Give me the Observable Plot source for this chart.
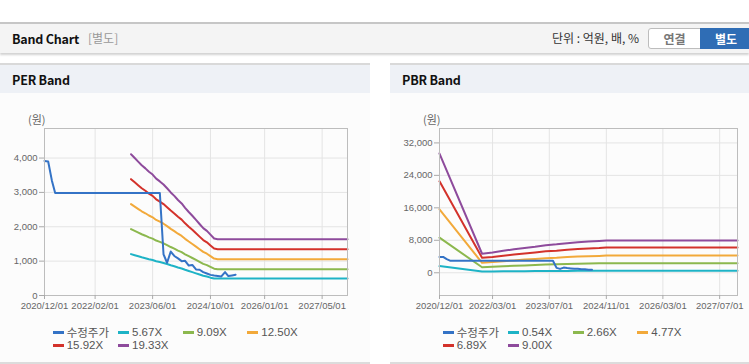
<!DOCTYPE html>
<html><head><meta charset="utf-8">
<script src="https://cdn.jsdelivr.net/npm/d3@7"></script>
<script src="https://cdn.jsdelivr.net/npm/@observablehq/plot@0.6"></script>
<style>
body{margin:0;background:#fff;font-family:"Noto Sans CJK KR","Noto Sans",sans-serif;}
#root{position:relative;width:749px;height:364px;overflow:hidden;background:#fff;}
.hdr{position:absolute;left:0;top:22px;width:749px;height:29px;background:#f4f4f4;border-top:2px solid #c6c6c6;box-shadow:0 2px 2px rgba(0,0,0,0.18);}
.hdr .t{position:absolute;left:12px;top:5px;font-size:12.5px;font-weight:bold;color:#111;letter-spacing:-0.2px;}
.hdr .s{position:absolute;left:88px;top:5px;font-size:12px;color:#999;}
.hdr .u{position:absolute;left:552px;top:5px;font-size:12px;color:#333;}
.b1{position:absolute;left:648px;top:4px;width:51px;height:19px;border:1px solid #bdbdbd;border-radius:3px 0 0 3px;background:#fff;color:#777;font-size:12px;font-weight:bold;text-align:center;line-height:19px;box-sizing:content-box;}
.b2{position:absolute;left:700px;top:4px;width:52px;height:21px;background:#2f6db5;color:#fff;font-size:12px;font-weight:bold;text-align:center;line-height:21px;}
.panel{position:absolute;top:63px;height:297px;background:#fcfcfc;border-top:2px solid #d9d9d9;border-bottom:2px solid #dcdcdc;}
.ph{position:absolute;left:0;top:0;right:0;height:28px;background:#eef1f6;}
.ph span{position:absolute;left:12px;top:5px;font-size:12.5px;font-weight:bold;color:#111;letter-spacing:-0.2px;}
.unit{position:absolute;top:46px;font-size:11px;color:#666;font-family:"Noto Sans CJK KR",sans-serif;}
.leg{position:absolute;font-size:11.5px;color:#555;font-family:"Liberation Sans",Arial,sans-serif;white-space:nowrap;}
.leg i{position:absolute;left:0;top:7px;width:11px;height:3px;}
.leg b{position:absolute;left:14px;top:0;font-weight:normal;line-height:17px;}
.leg b.k{font-family:"Noto Sans CJK KR",sans-serif;font-size:11.5px;}
</style></head>
<body><div id="root">
<div class="hdr"><div class="t">Band Chart</div><div class="s">[별도]</div><div class="u">단위 : 억원, 배, %</div><div class="b1">연결</div><div class="b2">별도</div></div>
<div class="panel" id="p1" style="left:0;width:370px;"><div class="ph"><span>PER Band</span></div><div class="unit" style="left:28px;">(원)</div></div>
<div class="panel" id="p2" style="left:390px;width:359px;"><div class="ph"><span>PBR Band</span></div><div class="unit" style="left:33px;">(원)</div></div>
</div>
<script>
// ---- shared price series (수정주가) ----
const priceDates = ["2020-12","2021-01","2021-02","2021-03","2023-08","2023-09","2023-10","2023-11","2023-12","2024-01","2024-02","2024-03","2024-04","2024-05","2024-06","2024-07","2024-08","2024-09","2024-10","2024-11","2024-12","2025-01","2025-02","2025-03","2025-04","2025-05"];
const priceValues = [3915,3900,3350,2980,2980,1200,953,1280,1150,1080,1000,1010,870,890,760,750,680,640,600,580,570,555,680,565,585,605];
const pbrPriceEnd = "2024-07";

// ---- PER band ----
const perLabels = ["수정주가","5.67X","9.09X","12.50X","15.92X","19.33X"];
const perBandDates = ["2022-12","2023-01","2023-02","2023-03","2023-04","2023-05","2023-06","2023-07","2023-08","2023-09","2023-10","2023-11","2023-12","2024-01","2024-02","2024-03","2024-04","2024-05","2024-06","2024-07","2024-08","2024-09","2024-10","2024-11","2024-12","2027-12"];
const per567 = [1205,1173,1141,1112,1085,1056,1032,997,974,947,915,880,851,815,786,748,713,680,645,610,575,551,519,495,495,495];
const per909 = [1933,1881,1829,1782,1740,1693,1655,1599,1561,1519,1467,1411,1364,1307,1260,1199,1143,1091,1035,978,922,884,832,781,765,765];
const per1250 = [2658,2587,2516,2451,2393,2328,2276,2199,2147,2089,2018,1940,1875,1798,1733,1649,1571,1500,1423,1345,1268,1216,1145,1074,1055,1055];
const per1592 = [3385,3294,3204,3121,3047,2965,2899,2800,2734,2660,2570,2471,2388,2290,2207,2100,2001,1911,1812,1713,1614,1548,1458,1367,1345,1345];
const per1933 = [4110,4000,3890,3790,3700,3600,3520,3400,3320,3230,3120,3000,2900,2780,2680,2550,2430,2320,2200,2080,1960,1880,1770,1660,1640,1640];
const perYTicks = [0,1000,2000,3000,4000];
const perXTickLabels = ["2020/12/01","2022/02/01","2023/06/01","2024/10/01","2026/01/01","2027/05/01"];

// ---- PBR band ----
const pbrLabels = ["수정주가","0.54X","2.66X","4.77X","6.89X","9.00X"];
const pbrBandDates = ["2020-12","2021-12","2022-03","2022-06","2022-09","2022-12","2023-03","2023-06","2023-09","2023-12","2024-03","2024-06","2024-09","2024-11","2027-12"];
const pbr054 = [1650,330,340,360,380,400,410,430,440,460,470,480,490,500,500];
const pbr266 = [8650,1350,1480,1600,1710,1800,1890,2010,2070,2160,2220,2280,2320,2360,2360];
const pbr477 = [15650,2450,2650,2850,3050,3250,3400,3600,3700,3870,3980,4080,4160,4250,4250];
const pbr689 = [22550,3700,3900,4200,4500,4750,5000,5300,5450,5700,5850,6000,6100,6250,6250];
const pbr900 = [29380,4690,5000,5400,5800,6100,6400,6800,7000,7300,7500,7700,7850,7975,7975];
const pbrYTicks = [0,8000,16000,24000,32000];
const pbrXTickLabels = ["2020/12/01","2022/03/01","2023/07/01","2024/11/01","2026/03/01","2027/07/01"];

const colors = ["#3473c6","#1eb3c6","#8cb84e","#f2a93a","#d3322b","#8e4b9c"];
const xDomainLabels = ["2020-12","2027-12"];

const pm = d3.utcParse("%Y-%m");
const pt = d3.utcParse("%Y/%m/%d");

function rows(dates, values, name){ return dates.map((d,i)=>({date:pm(d), value:values[i], series:name})); }

function makeChart(o){
  const bandRows = o.bands.flatMap(b=>rows(o.bandDates,b.values,b.name));
  const priceRows = rows(o.priceDates,o.priceValues,o.labels[0]);
  const xt = o.xTicks.map(pt);
  return Plot.plot({
    width:o.width, height:222,
    marginLeft:o.ml, marginRight:o.mr, marginTop:35, marginBottom:20,
    style:{background:"transparent", fontFamily:"'Liberation Sans',Arial,sans-serif", fontSize:"9.5px"},
    x:{type:"utc", domain:xDomainLabels.map(pm), label:null},
    y:{domain:o.yDomain, label:null},
    color:{domain:o.labels, range:colors},
    marks:[
      Plot.gridX(xt,{stroke:"#e4e4e4", strokeOpacity:1}),
      Plot.gridY(o.yTicks,{stroke:"#e4e4e4", strokeOpacity:1}),
      Plot.line(bandRows,{x:"date", y:"value", z:"series", stroke:"series", strokeWidth:2, curve:"linear"}),
      Plot.line(priceRows,{x:"date", y:"value", stroke:"series", strokeWidth:2}),
      Plot.frame({stroke:"#bdbdbd"}),
      Plot.axisX(xt,{label:null, tickSize:4, tickPadding:3, tickFormat:d3.utcFormat("%Y/%m/%d"), stroke:"#aaa", fill:"#666", fontSize:"9.5px"}),
      Plot.axisY(o.yTicks,{label:null, tickSize:5, tickPadding:2, tickFormat:d3.format(","), stroke:"#aaa", fill:"#666", fontSize:"9.5px"})
    ]
  });
}

function legend(panel, labels){
  const xs=[52.7,118,182.7,247.3];
  labels.forEach((l,i)=>{
    const r=Math.floor(i/4), c=i%4;
    const d=document.createElement("div");
    d.className="leg";
    d.style.left=xs[c]+"px";
    d.style.top=(258.5+r*13.3)+"px";
    d.innerHTML=`<i style="background:${colors[i]}"></i><b class="${i===0?'k':''}">${l}</b>`;
    panel.appendChild(d);
  });
}

const p1=document.getElementById("p1"), p2=document.getElementById("p2");
const c1=makeChart({width:370, ml:44, mr:23, yDomain:[0,4860], yTicks:perYTicks, xTicks:perXTickLabels,
  labels:perLabels, bandDates:perBandDates,
  bands:[{name:perLabels[1],values:per567},{name:perLabels[2],values:per909},{name:perLabels[3],values:per1250},{name:perLabels[4],values:per1592},{name:perLabels[5],values:per1933}],
  priceDates:priceDates, priceValues:priceValues});
c1.style.position="absolute"; c1.style.left="0"; c1.style.top="28px"; p1.appendChild(c1);
legend(p1, perLabels);

const cut = priceDates.indexOf(pbrPriceEnd)+1;
const c2=makeChart({width:359, ml:49, mr:12, yDomain:[-5600,35550], yTicks:pbrYTicks, xTicks:pbrXTickLabels,
  labels:pbrLabels, bandDates:pbrBandDates,
  bands:[{name:pbrLabels[1],values:pbr054},{name:pbrLabels[2],values:pbr266},{name:pbrLabels[3],values:pbr477},{name:pbrLabels[4],values:pbr689},{name:pbrLabels[5],values:pbr900}],
  priceDates:priceDates.slice(0,cut), priceValues:priceValues.slice(0,cut)});
c2.style.position="absolute"; c2.style.left="0"; c2.style.top="28px"; p2.appendChild(c2);
legend(p2, pbrLabels);
</script>
</body></html>
